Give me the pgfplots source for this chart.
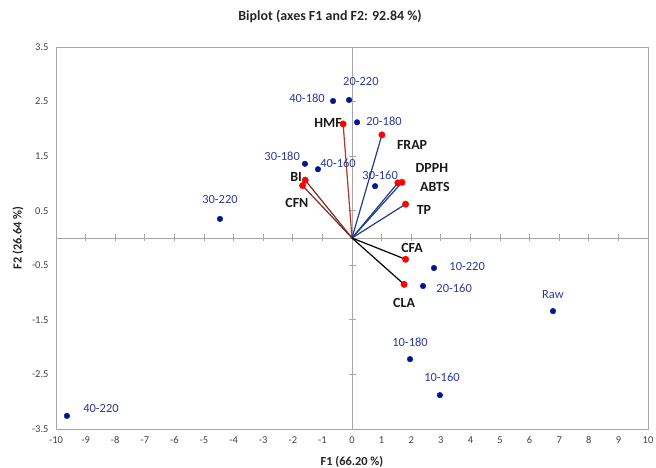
\documentclass[border=0pt]{standalone}
\usepackage{pgfplots}
\pgfplotsset{compat=1.18}
\usepackage{fontspec}
\setmainfont{Carlito}
\definecolor{obsblue}{HTML}{00188F}
\definecolor{lblblue}{HTML}{2E3A9A}
\definecolor{vecblue}{HTML}{1F3C8F}
\definecolor{vecred}{HTML}{B0352A}
\definecolor{vecbrown}{HTML}{7B2A22}
\definecolor{axgray}{HTML}{A6A6A6}
\begin{document}
\begin{tikzpicture}
\begin{axis}[name=ax, scale only axis, width=592bp, height=382bp,
  xmin=-10, xmax=10, ymin=-3.5, ymax=3.5,
  xtick={-10,-9,-8,-7,-6,-5,-4,-3,-2,-1,0,1,2,3,4,5,6,7,8,9,10},
  xticklabels={-10,-9,-8,-7,-6,-5,-4,-3,-2,-1,0,1,2,3,4,5,6,7,8,9,10},
  ytick={-3.5,-2.5,-1.5,-0.5,0.5,1.5,2.5,3.5},
  yticklabels={-3.5,-2.5,-1.5,-0.5,0.5,1.5,2.5,3.5},
  major tick length=0pt,
  axis line style={axgray, line width=0.8bp},
  tick label style={font=\fontsize{10.5}{12}\selectfont, text=black!75},
  xticklabel style={yshift=-4bp},
  yticklabel style={xshift=-4bp},
  xlabel={F1 (66.20 \%)}, ylabel={F2 (26.64 \%)},
  label style={font=\fontsize{12.4}{14}\selectfont\bfseries, text=black!85},
  xlabel style={at={(rel axis cs:0.5,0)}, anchor=center, yshift=-33bp},
  ylabel style={at={(rel axis cs:0,0.5)}, anchor=center, yshift=38bp},
  clip=false]
% center lines
\draw[axgray, line width=0.8bp] (axis cs:-10,0) -- (axis cs:10,0);
\draw[axgray, line width=0.8bp] (axis cs:0,-3.5) -- (axis cs:0,3.5);
\pgfplotsinvokeforeach{-9,-8,-7,-6,-5,-4,-3,-2,-1,1,2,3,4,5,6,7,8,9}{
  \draw[axgray, line width=0.8bp] ([yshift=-3.5bp]axis cs:#1,0) -- ([yshift=3.5bp]axis cs:#1,0);
}
\pgfplotsinvokeforeach{-3.5,-2.5,-1.5,-0.5,0.5,1.5,2.5,3.5}{
  \draw[axgray, line width=0.8bp] ([xshift=-3.5bp]axis cs:0,#1) -- ([xshift=3.5bp]axis cs:0,#1);
}
% observations
\addplot[only marks, mark=*, mark size=2.8bp, obsblue] coordinates {
 (-0.10,2.53) (-0.64,2.51) (0.17,2.12) (-1.59,1.36) (-1.15,1.26) (0.78,0.95)
 (-4.46,0.35) (2.77,-0.55) (2.40,-0.88) (6.79,-1.34) (1.96,-2.22) (2.97,-2.88)
 (-9.63,-3.26)};
% variable vectors
\addplot[vecred, line width=1.2bp] coordinates {(0,0) (-0.30,2.09)};
\addplot[vecbrown, line width=1.2bp] coordinates {(0,0) (-1.58,1.06)};
\addplot[vecbrown, line width=1.2bp] coordinates {(0,0) (-1.67,0.96)};
\addplot[vecblue, line width=1.2bp] coordinates {(0,0) (1.01,1.89)};
\addplot[vecblue, line width=1.2bp] coordinates {(0,0) (1.55,1.01)};
\addplot[vecblue, line width=1.2bp] coordinates {(0,0) (1.69,1.02)};
\addplot[vecblue, line width=1.2bp] coordinates {(0,0) (1.81,0.62)};
\addplot[black, line width=1.2bp] coordinates {(0,0) (1.81,-0.39)};
\addplot[black, line width=1.2bp] coordinates {(0,0) (1.76,-0.85)};
\addplot[only marks, mark=*, mark size=3.2bp, red] coordinates {
 (-0.30,2.09) (-1.58,1.06) (-1.67,0.96) (1.01,1.89) (1.55,1.01) (1.69,1.02)
 (1.81,0.62) (1.81,-0.39) (1.76,-0.85)};
% observation labels
\begin{scope}[every node/.style={font=\fontsize{12.5}{14}\selectfont, text=lblblue}]
\node at (axis cs:0.30,2.86) {20-220};
\node at (axis cs:-1.52,2.56) {40-180};
\node at (axis cs:1.08,2.14) {20-180};
\node at (axis cs:-2.36,1.50) {30-180};
\node at (axis cs:-0.47,1.37) {40-160};
\node at (axis cs:0.95,1.15) {30-160};
\node at (axis cs:-4.46,0.70) {30-220};
\node at (axis cs:3.89,-0.53) {10-220};
\node at (axis cs:3.45,-0.92) {20-160};
\node at (axis cs:6.79,-1.04) {Raw};
\node at (axis cs:1.96,-1.92) {10-180};
\node at (axis cs:3.04,-2.56) {10-160};
\node at (axis cs:-8.48,-3.13) {40-220};
\end{scope}
% variable labels
\begin{scope}[every node/.style={font=\fontsize{14}{16}\selectfont\bfseries, text=black!90}]
\node at (axis cs:-0.81,2.11) {HMF};
\node at (axis cs:2.03,1.70) {FRAP};
\node at (axis cs:2.70,1.28) {DPPH};
\node at (axis cs:2.80,0.93) {ABTS};
\node at (axis cs:2.43,0.51) {TP};
\node at (axis cs:-1.89,1.12) {BI};
\node at (axis cs:-1.86,0.64) {CFN};
\node at (axis cs:2.03,-0.18) {CFA};
\node at (axis cs:1.76,-1.19) {CLA};
\end{scope}
\node[font=\fontsize{14}{16}\selectfont\bfseries, text=black!85] at ([yshift=31bp]rel axis cs:0.463,1) {Biplot (axes F1 and F2: 92.84 \%)};
\end{axis}
\path (ax.south west) ++(-56bp,-39bp) coordinate (bl);
\path (ax.north east) ++(8bp,47bp) coordinate (tr);
\pgfresetboundingbox
\path (bl) rectangle (tr);
\end{tikzpicture}
\end{document}
